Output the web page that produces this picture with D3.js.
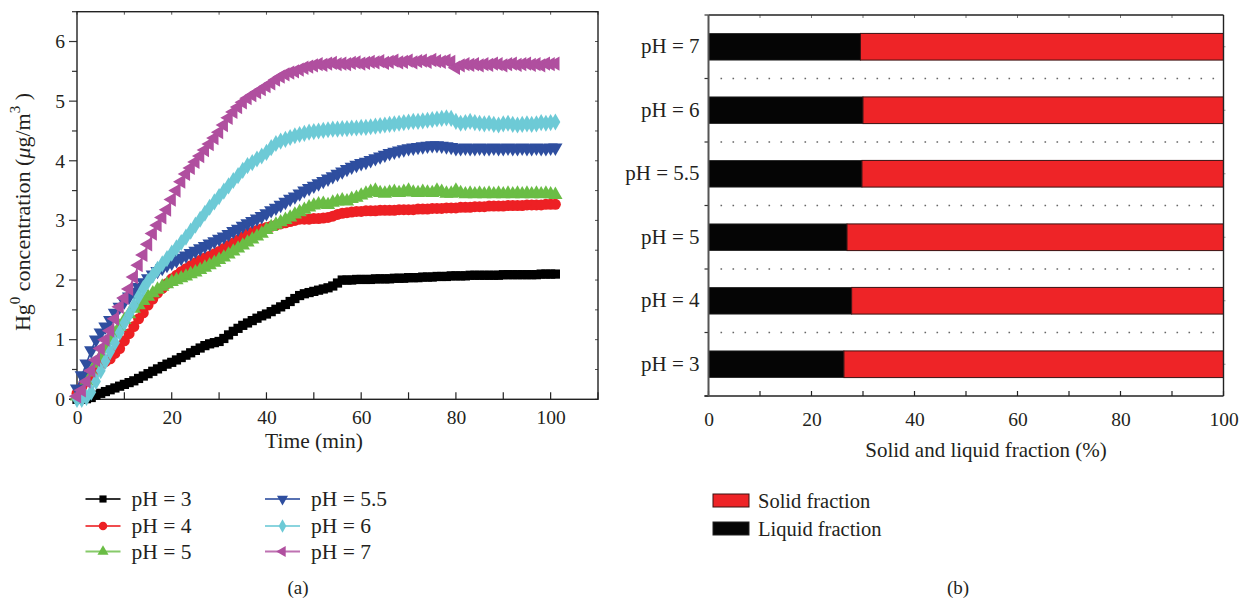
<!DOCTYPE html>
<html><head><meta charset="utf-8">
<script src="https://cdn.jsdelivr.net/npm/d3@7"></script>
<style>
body{margin:0;background:#fff;}
svg{display:block;}
text{font-family:"Liberation Serif","Times New Roman",serif;fill:#231f20;}
</style>
</head><body>
<svg id="chart" width="1245" height="604"></svg>
<script>
// ---------- Panel (a) data ----------
const timeMin = [0,1,2,3,4,5,6,7,8,9,10,11,12,13,14,15,16,17,18,19,20,21,22,23,24,25,26,27,28,29,30,31,32,33,34,35,36,37,38,39,40,41,42,43,44,45,46,47,48,49,50,51,52,53,54,55,56,57,58,59,60,61,62,63,64,65,66,67,68,69,70,71,72,73,74,75,76,77,78,79,80,81,82,83,84,85,86,87,88,89,90,91,92,93,94,95,96,97,98,99,100,101];
const pH3 = [0.00,0.00,0.01,0.03,0.07,0.10,0.13,0.16,0.19,0.22,0.25,0.28,0.31,0.35,0.39,0.43,0.47,0.51,0.55,0.59,0.62,0.66,0.70,0.74,0.78,0.82,0.86,0.90,0.93,0.95,0.97,1.02,1.08,1.14,1.19,1.24,1.28,1.32,1.36,1.40,1.43,1.47,1.51,1.55,1.59,1.64,1.69,1.74,1.77,1.79,1.81,1.83,1.85,1.87,1.90,1.95,2.00,2.00,2.00,2.01,2.01,2.01,2.01,2.02,2.02,2.02,2.02,2.03,2.03,2.03,2.04,2.04,2.04,2.05,2.05,2.05,2.06,2.06,2.06,2.07,2.07,2.07,2.07,2.08,2.08,2.08,2.08,2.08,2.08,2.08,2.09,2.09,2.09,2.09,2.09,2.09,2.09,2.09,2.10,2.10,2.10,2.10];
const pH4 = [0.10,0.20,0.30,0.40,0.50,0.58,0.63,0.68,0.77,0.85,0.98,1.10,1.22,1.35,1.45,1.58,1.68,1.78,1.86,1.94,2.02,2.08,2.14,2.19,2.24,2.29,2.33,2.37,2.40,2.44,2.48,2.53,2.58,2.62,2.67,2.72,2.77,2.80,2.83,2.86,2.88,2.90,2.92,2.94,2.96,2.98,3.00,3.02,3.02,3.02,3.03,3.03,3.04,3.05,3.07,3.10,3.12,3.13,3.14,3.15,3.15,3.16,3.16,3.16,3.17,3.17,3.17,3.17,3.18,3.18,3.18,3.18,3.19,3.19,3.19,3.20,3.20,3.20,3.21,3.21,3.21,3.22,3.22,3.22,3.23,3.23,3.23,3.24,3.24,3.24,3.24,3.25,3.25,3.25,3.25,3.26,3.26,3.26,3.26,3.27,3.27,3.27];
const pH5 = [0.05,0.15,0.30,0.45,0.60,0.72,0.85,0.98,1.10,1.22,1.33,1.43,1.52,1.58,1.65,1.72,1.78,1.84,1.89,1.93,1.97,2.00,2.03,2.06,2.10,2.13,2.17,2.21,2.25,2.29,2.34,2.38,2.43,2.48,2.53,2.58,2.63,2.68,2.73,2.78,2.84,2.89,2.93,2.97,3.01,3.05,3.10,3.14,3.18,3.22,3.25,3.27,3.28,3.26,3.30,3.32,3.34,3.32,3.36,3.38,3.42,3.45,3.48,3.50,3.46,3.45,3.47,3.48,3.46,3.48,3.50,3.47,3.46,3.48,3.47,3.46,3.50,3.48,3.45,3.45,3.50,3.46,3.44,3.45,3.44,3.45,3.44,3.45,3.44,3.45,3.44,3.45,3.44,3.45,3.44,3.45,3.44,3.45,3.44,3.45,3.44,3.43];
const pH55 = [0.18,0.40,0.60,0.82,1.00,1.12,1.22,1.33,1.45,1.55,1.64,1.72,1.80,1.88,1.96,2.03,2.09,2.15,2.20,2.25,2.29,2.33,2.37,2.41,2.45,2.49,2.53,2.57,2.61,2.65,2.69,2.73,2.77,2.82,2.86,2.91,2.95,2.99,3.03,3.07,3.12,3.17,3.21,3.26,3.31,3.36,3.40,3.45,3.50,3.54,3.58,3.62,3.66,3.70,3.74,3.78,3.82,3.86,3.90,3.93,3.96,3.98,4.01,4.04,4.07,4.10,4.13,4.15,4.17,4.19,4.21,4.22,4.23,4.24,4.25,4.26,4.26,4.25,4.24,4.23,4.21,4.21,4.22,4.21,4.21,4.22,4.21,4.21,4.22,4.21,4.21,4.22,4.21,4.21,4.22,4.21,4.21,4.22,4.21,4.21,4.22,4.22];
const pH6 = [0.00,0.00,0.03,0.12,0.30,0.48,0.64,0.80,0.95,1.12,1.28,1.42,1.57,1.72,1.86,1.98,2.08,2.18,2.27,2.36,2.45,2.54,2.63,2.72,2.82,2.92,3.02,3.12,3.22,3.31,3.40,3.49,3.58,3.67,3.75,3.84,3.92,3.97,4.03,4.08,4.14,4.22,4.29,4.33,4.36,4.39,4.42,4.44,4.46,4.48,4.49,4.50,4.51,4.52,4.53,4.53,4.54,4.54,4.55,4.55,4.56,4.56,4.57,4.58,4.59,4.60,4.61,4.62,4.63,4.64,4.65,4.66,4.66,4.67,4.68,4.69,4.70,4.71,4.72,4.71,4.66,4.63,4.64,4.66,4.64,4.63,4.62,4.63,4.61,4.60,4.62,4.63,4.61,4.60,4.61,4.62,4.61,4.62,4.64,4.63,4.64,4.65];
const pH7 = [0.05,0.15,0.30,0.48,0.66,0.85,1.00,1.15,1.35,1.55,1.70,1.85,2.05,2.25,2.42,2.60,2.78,2.92,3.05,3.18,3.35,3.50,3.65,3.78,3.88,3.98,4.08,4.18,4.28,4.38,4.48,4.60,4.72,4.82,4.90,4.98,5.05,5.10,5.15,5.20,5.25,5.30,5.36,5.41,5.45,5.48,5.50,5.53,5.56,5.58,5.60,5.62,5.61,5.63,5.64,5.62,5.63,5.62,5.64,5.65,5.63,5.64,5.66,5.65,5.67,5.64,5.66,5.68,5.65,5.66,5.68,5.65,5.67,5.68,5.66,5.69,5.67,5.66,5.68,5.66,5.56,5.60,5.62,5.61,5.62,5.60,5.62,5.61,5.63,5.62,5.60,5.62,5.63,5.61,5.62,5.63,5.61,5.62,5.60,5.63,5.62,5.63];
const seriesNames = ["pH = 3","pH = 4","pH = 5","pH = 5.5","pH = 6","pH = 7"];
const seriesColors = ["#000000","#ed2024","#6abd45","#2e4e9f","#6dcad6","#b04f9f"];
const xTicksA = [0,20,40,60,80,100];
const yTicksA = [0,1,2,3,4,5,6];

// ---------- Panel (b) data ----------
const barCategories = ["pH = 3","pH = 4","pH = 5","pH = 5.5","pH = 6","pH = 7"];
const liquidFraction = [26.3,27.8,26.9,29.8,30.0,29.5];
const solidFraction = [73.7,72.2,73.1,70.2,70.0,70.5];
const xTicksB = [0,20,40,60,80,100];

const svg = d3.select("#chart");
const FS = 19.5;

// ================= Panel (a) =================
const xA = d3.scaleLinear().domain([0,110]).range([77,598]);
const yA = d3.scaleLinear().domain([0,6.5]).range([399.3,11.7]);
const gA = svg.append("g");

const yMinor = d3.range(0,6.51,0.5);
const xMinor = d3.range(0,110.1,10);
gA.append("g").selectAll("line").data(yMinor).join("line")
  .attr("x1", d => yTicksA.includes(d) ? xA(0)-8 : xA(0)-5).attr("x2", xA(0))
  .attr("y1", d=>yA(d)).attr("y2", d=>yA(d)).attr("stroke","#333").attr("stroke-width",1.2);
gA.append("g").selectAll("line").data(yMinor).join("line")
  .attr("x1", xA(110)-3).attr("x2", xA(110))
  .attr("y1", d=>yA(d)).attr("y2", d=>yA(d)).attr("stroke","#555").attr("stroke-width",1);
gA.append("g").selectAll("line").data(xMinor).join("line")
  .attr("x1", d=>xA(d)).attr("x2", d=>xA(d))
  .attr("y1", yA(0)).attr("y2", yA(0)-7).attr("stroke","#222").attr("stroke-width",1.2);
gA.append("g").selectAll("line").data(xMinor).join("line")
  .attr("x1", d=>xA(d)).attr("x2", d=>xA(d))
  .attr("y1", yA(6.5)).attr("y2", yA(6.5)+3).attr("stroke","#555").attr("stroke-width",1);

const axYA = gA.append("g").attr("transform",`translate(${xA(0)},0)`)
  .call(d3.axisLeft(yA).tickValues(yTicksA).tickSize(0).tickPadding(12).tickFormat(d3.format("d")));
axYA.select(".domain").remove();
axYA.selectAll("text").attr("font-size",FS).attr("font-family","Liberation Serif");
const axXA = gA.append("g").attr("transform",`translate(0,${yA(0)})`)
  .call(d3.axisBottom(xA).tickValues(xTicksA).tickSize(0).tickPadding(11));
axXA.select(".domain").remove();
axXA.selectAll("text").attr("font-size",FS).attr("font-family","Liberation Serif");

gA.append("rect").attr("x",xA(0)).attr("y",yA(6.5)).attr("width",xA(110)-xA(0)).attr("height",yA(0)-yA(6.5))
  .attr("fill","none").attr("stroke","#222").attr("stroke-width",1.4);
gA.append("line").attr("x1",xA(0)-8).attr("x2",xA(0)).attr("y1",yA(0)).attr("y2",yA(0)).attr("stroke","#222").attr("stroke-width",1.4);

const seriesData = [pH3,pH4,pH5,pH55,pH6,pH7];
const symbols = [
  {type:d3.symbolSquare, size:85, rot:0},
  {type:d3.symbolCircle, size:95, rot:0},
  {type:d3.symbolTriangle, size:88, rot:0},
  {type:d3.symbolTriangle, size:88, rot:180},
  {type:d3.symbolDiamond, size:85, rot:0},
  {type:d3.symbolTriangle, size:88, rot:-90}
];
const line = d3.line().x((d,i)=>xA(timeMin[i])).y(d=>yA(d));
seriesData.forEach((vals,k)=>{
  const g = gA.append("g");
  g.append("path").datum(vals).attr("d",line).attr("fill","none")
    .attr("stroke",seriesColors[k]).attr("stroke-width",1.6);
  g.selectAll("path.m").data(vals).join("path").attr("class","m")
    .attr("d", d3.symbol().type(symbols[k].type).size(symbols[k].size))
    .attr("transform",(d,i)=>`translate(${xA(timeMin[i])},${yA(d)}) rotate(${symbols[k].rot})`)
    .attr("fill",seriesColors[k]);
});

const yt = gA.append("text").attr("transform","translate(30,212) rotate(-90)")
  .attr("text-anchor","middle").attr("font-size",22);
yt.append("tspan").text("Hg");
yt.append("tspan").text("0").attr("font-size",15).attr("dy",-10);
yt.append("tspan").text(" concentration (").attr("dy",10);
yt.append("tspan").text("μ").attr("font-style","italic");
yt.append("tspan").text("g/m");
yt.append("tspan").text("3").attr("font-size",15).attr("dy",-10);
yt.append("tspan").text(" )").attr("dy",10);
gA.append("text").attr("x",314).attr("y",448).attr("text-anchor","middle")
  .attr("font-size",21.5).text("Time (min)");

const legA = gA.append("g");
seriesNames.forEach((name,k)=>{
  const col = k<3 ? 0 : 1, row = k%3;
  const x0 = col===0 ? 85.5 : 265, yy = [499,526,551.5][row];
  legA.append("line").attr("x1",x0).attr("x2",x0+35).attr("y1",yy).attr("y2",yy)
    .attr("stroke",seriesColors[k]).attr("stroke-width",1.8).attr("opacity",0.8);
  legA.append("path").attr("d",d3.symbol().type(symbols[k].type).size(symbols[k].size*0.6))
    .attr("transform",`translate(${x0+17.5},${yy}) rotate(${symbols[k].rot})`).attr("fill",seriesColors[k]);
  legA.append("text").attr("x",x0+46).attr("y",yy+7).attr("font-size",21.5).text(name);
});
gA.append("text").attr("x",298).attr("y",594).attr("text-anchor","middle").attr("font-size",19).text("(a)");

// ================= Panel (b) =================
const xB = d3.scaleLinear().domain([0,100]).range([708.5,1223.5]);
const yB = d3.scaleBand().domain(barCategories).range([396,15]).paddingInner(0.58).paddingOuter(0.29);
const gB = svg.append("g");
const step = yB.step();
const bounds = barCategories.map(c => yB(c) + yB.bandwidth()/2 + step/2).concat([yB(barCategories[barCategories.length-1]) + yB.bandwidth()/2 - step/2]);
const innerBounds = barCategories.slice(0,-1).map(c => yB(c) + yB.bandwidth()/2 - step/2);

gB.append("g").selectAll("line").data(innerBounds).join("line")
  .attr("x1",xB(0)+12).attr("x2",xB(100)-2).attr("y1",d=>d).attr("y2",d=>d)
  .attr("stroke","#666").attr("stroke-width",1.6).attr("stroke-dasharray","1.6 10.4");
gB.append("g").selectAll("line").data(bounds).join("line")
  .attr("x1",xB(0)-4).attr("x2",xB(0)).attr("y1",d=>d).attr("y2",d=>d)
  .attr("stroke","#333").attr("stroke-width",1.2);
gB.append("g").selectAll("line").data(barCategories).join("line")
  .attr("x1",xB(100)).attr("x2",xB(100)+2).attr("y1",d=>yB(d)+yB.bandwidth()/2).attr("y2",d=>yB(d)+yB.bandwidth()/2)
  .attr("stroke","#999").attr("stroke-width",1);
const xMinorB = d3.range(0,100.1,10);
gB.append("g").selectAll("line").data(xMinorB).join("line")
  .attr("x1",d=>xB(d)).attr("x2",d=>xB(d)).attr("y1",396).attr("y2",391)
  .attr("stroke","#222").attr("stroke-width",1.2);
gB.append("g").selectAll("line").data(xMinorB).join("line")
  .attr("x1",d=>xB(d)).attr("x2",d=>xB(d)).attr("y1",15).attr("y2",18)
  .attr("stroke","#777").attr("stroke-width",1);

gB.append("g").selectAll("rect").data(barCategories).join("rect")
  .attr("x",xB(0)).attr("y",d=>yB(d)).attr("height",yB.bandwidth())
  .attr("width",(d,i)=>xB(liquidFraction[i])-xB(0))
  .attr("fill","#050505").attr("stroke","#222").attr("stroke-width",0.8);
gB.append("g").selectAll("rect").data(barCategories).join("rect")
  .attr("x",(d,i)=>xB(liquidFraction[i])).attr("y",d=>yB(d)).attr("height",yB.bandwidth())
  .attr("width",(d,i)=>xB(liquidFraction[i]+solidFraction[i])-xB(liquidFraction[i]))
  .attr("fill","#ee2427").attr("stroke","#3a1212").attr("stroke-width",1);

gB.append("line").attr("x1",xB(0)).attr("x2",xB(100)).attr("y1",15).attr("y2",15).attr("stroke","#222").attr("stroke-width",1.4);
gB.append("line").attr("x1",xB(100)).attr("x2",xB(100)).attr("y1",15).attr("y2",396).attr("stroke","#222").attr("stroke-width",1.4);
gB.append("line").attr("x1",xB(0)-4).attr("x2",xB(100)).attr("y1",396).attr("y2",396).attr("stroke","#222").attr("stroke-width",1.4);
gB.append("line").attr("x1",xB(0)).attr("x2",xB(0)).attr("y1",15).attr("y2",396).attr("stroke","#555").attr("stroke-width",2);

const axYB = gB.append("g").attr("transform",`translate(${xB(0)},0)`)
  .call(d3.axisLeft(yB).tickSize(0).tickPadding(9));
axYB.select(".domain").remove();
axYB.selectAll("text").attr("font-size",21).attr("font-family","Liberation Serif");
const axXB = gB.append("g").attr("transform",`translate(0,396)`)
  .call(d3.axisBottom(xB).tickValues(xTicksB).tickSize(0).tickPadding(16));
axXB.select(".domain").remove();
axXB.selectAll("text").attr("font-size",19.5).attr("font-family","Liberation Serif");
gB.append("text").attr("x",986).attr("y",457).attr("text-anchor","middle").attr("font-size",21)
  .text("Solid and liquid fraction (%)");

const legB = [{name:"Solid fraction", fill:"#ee2427", stroke:"#3a1212"},{name:"Liquid fraction", fill:"#050505", stroke:"#222"}];
legB.forEach((d,i)=>{
  const yy = 494 + i*28;
  gB.append("rect").attr("x",713).attr("y",yy).attr("width",36).attr("height",13)
    .attr("fill",d.fill).attr("stroke",d.stroke).attr("stroke-width",1);
  gB.append("text").attr("x",758).attr("y",yy+13.5).attr("font-size",20.5).text(d.name);
});
gB.append("text").attr("x",958).attr("y",594).attr("text-anchor","middle").attr("font-size",19).text("(b)");
</script>
</body></html>
